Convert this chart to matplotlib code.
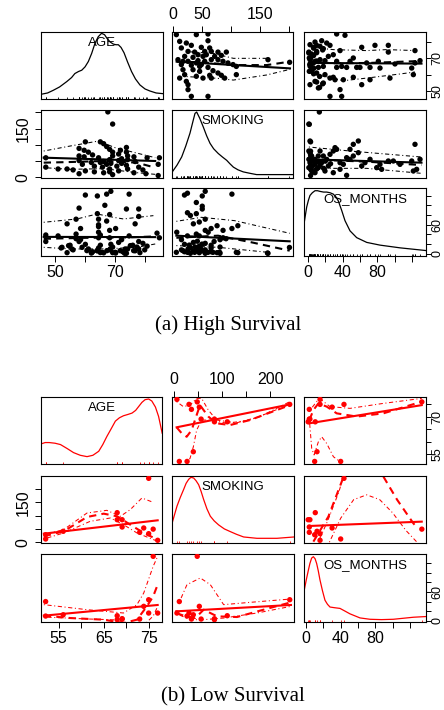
import matplotlib.pyplot as plt
import matplotlib.transforms as mtransforms
import numpy as np

plt.rcParams['font.family'] = ['Liberation Sans', 'DejaVu Sans']

names = ['AGE', 'SMOKING', 'OS_MONTHS']

# ---------------- (a) High Survival : values ----------------
# AGE vs SMOKING pairs
hi_as_smk = [5.8, 40.2, 60.3, 60.3, 11.5, 23.0, 31.6, 14.4, 48.8, 63.2, 25.9, 37.3, 54.6, 66.0, 77.5,
             91.9, 43.1, 51.7, 57.4, 71.8, 83.3, 20.1, 34.5, 8.6, 17.2, 25.9, 43.1, 54.6, 66.0, 77.5,
             86.1, 94.7, 103.4, 109.1, 14.4, 31.6, 48.8, 60.3, 17.2, 34.5, 45.9, 68.9, 77.5, 83.3, 11.5,
             20.1, 40.2, 51.7, 63.2, 89.0, 109.1, 163.6, 200.9, 25.9, 25.9, 31.6, 60.3, 66.0, 23.0, 40.2,
             45.9]
hi_as_age = [84.4, 84.4, 84.8, 80.7, 80.3, 79.3, 77.9, 76.3, 76.7, 76.3, 74.2, 73.8, 74.2, 74.2, 73.8,
             73.8, 72.2, 71.2, 72.2, 71.2, 71.8, 71.2, 70.6, 69.2, 68.2, 68.2, 68.6, 68.2, 69.2, 69.2,
             68.2, 67.2, 66.2, 65.1, 66.2, 65.8, 66.2, 64.5, 63.1, 63.1, 62.1, 62.5, 61.1, 59.7, 58.0,
             60.1, 59.1, 58.0, 59.7, 58.0, 60.1, 69.2, 67.6, 54.0, 51.0, 46.9, 46.9, 58.0, 56.0, 67.2,
             65.1]
# AGE vs OS_MONTHS pairs
hi_ao_os = [33.1, 42.7, 8.1, 15.8, 21.6, 2.3, 6.2, 13.9, 25.4, 37.0, 29.2, 1.0, 1.0, 4.2, 10.0,
            17.7, 62.0, 77.3, 92.7, 92.7, 123.5, 1.5, 2.3, 8.1, 13.9, 19.6, 23.5, 33.1, 48.5, 52.3,
            67.7, 81.2, 100.4, 123.5, 129.3, 2.0, 2.5, 6.2, 12.0, 17.7, 33.1, 38.9, 44.6, 56.2, 60.0,
            71.6, 83.1, 119.7, 1.5, 4.2, 10.0, 19.6, 25.4, 29.2, 31.2, 40.8, 52.3, 94.6, 121.6, 2.3,
            12.0, 17.7, 37.0, 62.0, 71.6, 25.4, 38.9, 8.1,
            6.5, 3.0, 6.5, 3.0, 6.5, 10.0, 3.0, 6.5, 10.0, 16.9, 6.5, 10.0, 10.0, 16.9, 13.4, 13.4]
hi_ao_age = [84.8, 84.0, 79.9, 80.7, 79.3, 78.3, 76.7, 77.3, 77.9, 74.7, 72.2, 73.2, 73.8, 72.6, 74.2,
             75.9, 76.7, 77.9, 77.9, 73.8, 74.7, 70.2, 69.2, 68.2, 69.2, 68.6, 71.2, 68.2, 68.2, 70.2,
             67.2, 68.2, 66.6, 67.2, 68.6, 66.2, 65.1, 64.1, 64.5, 65.1, 64.5, 65.1, 64.5, 64.5, 64.5,
             64.5, 64.1, 64.1, 62.1, 62.5, 61.1, 60.1, 58.0, 58.5, 57.0, 57.0, 58.5, 58.0, 60.1, 54.0,
             52.0, 55.0, 51.0, 54.0, 57.0, 46.9, 46.9, 56.0,
             60.6, 62.3, 64.0, 65.6, 67.3, 68.4, 70.1, 71.7, 73.4, 75.1, 76.2, 77.9, 55.6, 54.5, 52.3, 59.0]
# SMOKING vs OS_MONTHS pairs
hi_so_os = [13.1, 1.5, 2.3, 1.0, 2.3, 4.2, 1.0, 2.3, 1.0, 4.2, 8.1, 11.9, 15.8, 8.1, 11.9,
            17.7, 21.6, 25.4, 29.2, 31.2, 33.1, 23.5, 29.2, 44.6, 19.6, 37.0, 44.6, 48.5, 52.3, 58.1,
            40.8, 48.5, 62.0, 71.6, 83.1, 85.0, 92.7, 98.5, 106.2, 119.7, 129.3, 123.5, 121.6, 125.4, 13.9,
            8.1, 37.0, 65.8, 79.3, 58.1, 52.3, 5.0, 6.0, 10.0, 14.0, 18.0, 3.0, 26.0, 20.0,
            3.0, 6.5, 10.0, 3.0, 3.0, 3.0, 3.0, 3.0, 1.0, 13.4]
hi_so_smk = [200.6, 162.8, 111.7, 81.0, 75.9, 65.7, 55.5, 45.3, 30.0, 19.8, 14.6, 30.0, 45.3, 55.5, 65.7,
             65.7, 55.5, 70.8, 81.0, 91.3, 86.2, 35.1, 14.6, 6.5, 19.8, 45.3, 60.6, 86.2, 101.5, 111.7,
             40.2, 55.5, 35.1, 55.5, 40.2, 24.9, 50.4, 50.4, 40.2, 50.4, 55.5, 101.5, 19.8, 24.9, 81.0,
             40.2, 24.9, 45.3, 30.0, 75.9, 65.7, 35.0, 50.0, 48.0, 38.0, 28.0, 25.0, 42.0, 50.0,
             5.8, 17.2, 25.9, 37.3, 60.3, 68.9, 80.4, 109.1, 163.6, 45.9]

# fitted lines: regression, smoother, upper / lower spread
hi_lines = {
    ('SMOKING', 'AGE'): {'reg': ([6.3, 201.5], [68.0, 63.9]),
                         'smooth': ([6.3, 50, 104, 161.3, 201.5], [68.0, 67.6, 65.9, 65.9, 68.0]),
                         'up': ([23.6, 69.5, 104, 161.3], [74.1, 73.0, 70.0, 70.0]),
                         'low': ([23.6, 75.2, 104, 161.3, 201.5], [58.9, 57.9, 56.8, 59.9, 63.3])},
    ('OS_MONTHS', 'AGE'): {'reg': ([1.0, 131], [67.2, 66.8]),
                           'smooth': ([1, 30, 70, 131], [68.0, 67.0, 67.2, 68.4]),
                           'up': ([9.9, 29.2, 67.7, 90.8, 125.4], [76.3, 75.3, 74.7, 75.3, 74.7]),
                           'low': ([9.9, 40.8, 67.7, 106.2, 123.5], [60.1, 56.4, 58.0, 60.5, 61.7])},
    ('AGE', 'SMOKING'): {'reg': ([46.2, 83.4], [60.6, 50.4]),
                         'smooth': ([46.2, 55.1, 66.2, 77.3, 83.4], [45.3, 47.3, 50.4, 45.3, 30.0]),
                         'up': ([46.2, 55.1, 64.5, 70, 83.4], [81.0, 96.4, 111.7, 91.3, 60.6]),
                         'low': ([46.2, 55.1, 66.2, 77.3, 83.4], [30.0, 24.9, 26.9, 14.6, 9.5])},
    ('OS_MONTHS', 'SMOKING'): {'reg': ([1.0, 131], [55.5, 45.3]),
                               'smooth': ([1, 68, 131], [55.5, 48.3, 38.1]),
                               'up': ([1, 48.5, 131], [93.3, 81.0, 62.6]),
                               'low': ([1, 67.7, 131], [27.9, 27.9, 12.6])},
    ('AGE', 'OS_MONTHS'): {'reg': ([46.2, 83.4], [35.0, 34.5]),
                           'smooth': ([46.2, 60, 75, 83.4], [31.0, 33.0, 34.0, 36.0]),
                           'up': ([46.2, 57.3, 64.0, 69.5, 72.8, 82.8], [65.2, 72.1, 82.4, 75.5, 72.1, 79.0]),
                           'low': ([46.2, 55.1, 66.2, 77.3, 83.4], [13.4, 10.0, 10.0, 13.4, 20.3])},
    ('SMOKING', 'OS_MONTHS'): {'reg': ([5.8, 201], [37.5, 25.8]),
                               'smooth': ([5.8, 77.5, 135, 201], [33.1, 37.5, 23.8, 6.4]),
                               'up': ([5.8, 48.8, 106.2, 201], [67.2, 75.5, 68.6, 42.4]),
                               'low': ([5.8, 77.5, 135, 163.6], [16.9, 13.4, 6.5, 3.0])},
}

# density curves (x in data units, height as share of the panel)
hi_dens = {
    'AGE': ([45.3, 47.5, 49.4, 51.5, 53.9, 55.5, 56.6, 57.8, 58.9, 60.0, 61.1, 62.2, 63.3, 64.4, 65.5, 66.5,
             67.4, 68.4, 69.4, 70.3, 71.1, 72.0, 73.0, 74.2, 75.5, 76.8, 78.3, 80.0, 81.6, 83.7, 85.9],
            [0.07, 0.09, 0.13, 0.18, 0.26, 0.32, 0.38, 0.41, 0.43, 0.48, 0.56, 0.68, 0.83, 0.93, 0.98, 0.96,
             0.90, 0.85, 0.82, 0.81, 0.81, 0.77, 0.69, 0.55, 0.41, 0.30, 0.21, 0.15, 0.12, 0.09, 0.08]),
    'SMOKING': ([-1.2, 7, 15, 22, 29.3, 34, 37.9, 40.8, 46, 52.2, 58, 63.8, 70, 78, 85, 92.5, 98, 104, 112,
                 121, 132, 144, 170, 207],
                [0.09, 0.19, 0.31, 0.47, 0.66, 0.82, 0.95, 0.97, 0.88, 0.75, 0.62, 0.51, 0.43, 0.36, 0.31, 0.26,
                 0.21, 0.16, 0.12, 0.09, 0.07, 0.05, 0.05, 0.05]),
    'OS_MONTHS': ([-4.6, -3.0, -1.5, 0.5, 2.3, 5.0, 8.1, 11.0, 13.9, 18.0, 21.6, 25.5, 29.2, 32.2, 35.0, 38.9,
                   42.7, 48.5, 56.2, 67.8, 83.1, 106.2, 136.2],
                  [0.47, 0.60, 0.72, 0.82, 0.89, 0.93, 0.96, 0.96, 0.95, 0.94, 0.94, 0.93, 0.91, 0.87, 0.81, 0.67,
                   0.52, 0.37, 0.27, 0.20, 0.16, 0.12, 0.08]),
}

# ---------------- (b) Low Survival : one row per patient ----------------
lo_age = [52.1, 52.1, 56.0, 68.0, 68.0, 69.1, 69.1, 73.0, 73.9, 75.0, 75.0, 76.0, 77.0]
lo_smk = [12.0, 28.0, 40.9, 111.0, 84.5, 84.5, 57.0, 37.0, 53.3, 240.0, 32.0, 49.0, 7.1]
lo_os = [40.0, 10.0, 12.7, 10.7, 2.5, 4.5, 3.8, 3.8, 30.1, 43.8, 16.2, 133.6, 16.2]

lo_lines = {
    ('SMOKING', 'AGE'): {'reg': ([6.5, 240.5], [65.8, 75.0]),
                         'smooth': ([6.5, 16.9, 27.2, 37.5, 47.8, 54.7, 71.9, 89.1, 116.6, 157.9, 240.5],
                                    [65.8, 63.4, 62.0, 64.7, 70.7, 74.7, 70.1, 67.4, 66.7, 68.7, 74.7]),
                         'up': ([6.5, 20.3, 34.1, 47.8, 58.2, 71.9, 89.1, 130.4, 178.6, 240.5],
                                [76.1, 74.1, 74.7, 77.4, 77.4, 72.7, 68.7, 67.6, 70.1, 76.1]),
                         'low': ([27.2, 34.1, 41.0, 47.8, 58.2, 78.8, 109.8, 157.9, 240.5],
                                 [52.0, 53.3, 58.0, 64.7, 68.7, 68.7, 67.4, 68.7, 75.0])},
    ('OS_MONTHS', 'AGE'): {'reg': ([3.9, 133.5], [67.4, 74.7]),
                           'smooth': ([3.9, 8.5, 14.3, 23.9, 35.4, 58.5, 89.3, 133.5],
                                      [68.7, 72.7, 75.4, 74.1, 71.4, 70.1, 71.4, 76.1]),
                           'up': ([4.7, 14.3, 18.1, 27.7, 50.8, 89.3, 133.5],
                                  [72.7, 77.0, 76.7, 74.1, 73.4, 75.4, 77.4]),
                           'low': ([3.9, 6.6, 9.3, 14.3, 18.1, 23.9, 31.6, 39.3],
                                   [68.7, 57.3, 54.7, 60.0, 62.0, 59.3, 54.0, 52.0])},
    ('AGE', 'SMOKING'): {'reg': ([51.7, 77.0], [32.0, 82.2]),
                         'smooth': ([51.7, 56.1, 61.3, 65.0, 68.0, 70.9, 73.9, 77.0],
                                    [22.0, 40.8, 94.7, 107.2, 97.2, 65.9, 34.6, 9.5]),
                         'up': ([51.7, 56.1, 61.3, 65.7, 68.7, 70.9, 73.5, 76.0],
                                [28.3, 47.1, 109.7, 119.7, 97.2, 122.3, 166.1, 149.8]),
                         'low': ([51.7, 56.1, 62.0, 66.5, 69.4, 72.4, 77.0],
                                 [12.0, 34.6, 78.4, 90.9, 65.9, 34.6, 3.2])},
    ('OS_MONTHS', 'SMOKING'): {'reg': ([3.9, 133.5], [60.9, 77.2]),
                               'smooth': ([8.5, 25.8, 43.1], [2.0, 96.0, 243.9]),
                               'smooth2': ([89.3, 105.0, 123.8, 128.0], [246.3, 160.0, 70.9, 55.0]),
                               'up': ([27.0, 40.0, 55.0, 70.0, 85.0, 100.0, 115.0, 128.0],
                                      [0.0, 90.0, 160.0, 178.0, 160.0, 110.0, 45.0, 0.0]),
                               'low': ([14.0, 25.0, 38.0, 43.0], [0.0, 80.0, 190.0, 245.0])},
    ('AGE', 'OS_MONTHS'): {'reg': ([51.7, 77.0], [10.8, 32.9]),
                           'smooth': ([51.7, 57.6, 65.0, 69.4, 72.4, 74.6, 76.0, 77.0],
                                      [10.8, 5.9, 2.5, -4.4, 2.5, 30.1, 50.8, 75.0]),
                           'up': ([51.7, 61.3, 69.4, 72.4, 73.9, 76.0, 77.0],
                                  [33.6, 23.2, 16.3, 33.6, 57.7, 112.9, 133.6]),
                           'low': ([51.7, 61.3, 68.0, 71.0, 74.0, 76.0, 77.0],
                                   [8.0, 4.0, 2.0, -8.0, -8.0, 10.0, 30.0])},
    ('SMOKING', 'OS_MONTHS'): {'reg': ([5.8, 242.5], [19.8, 32.9]),
                               'smooth': ([5.8, 21.0, 45.0, 62.3, 89.8, 131.1, 186.1, 242.5],
                                          [16.3, 10.8, 5.9, 23.2, 9.4, 8.0, 23.2, 38.4]),
                               'up': ([12.7, 27.8, 55.4, 76.0, 103.5, 158.6, 242.5],
                                      [40.4, 75.0, 88.8, 75.0, 33.6, 38.4, 45.3]),
                               'low': ([5.8, 34.7, 62.3, 103.5, 172.4, 242.5],
                                       [14.9, 2.5, 2.5, 5.9, 16.3, 30.1])},
}

lo_dens = {
    'AGE': ([51.07, 52.0, 52.9, 54.2, 55.4, 56.9, 58.3, 59.8, 61.3, 62.6, 63.9, 64.8, 65.7, 66.7, 67.6, 68.5,
             69.4, 70.4, 71.3, 72.1, 72.8, 73.5, 74.2, 75.0, 75.7, 76.5, 77.2, 78.0],
            [0.30, 0.32, 0.32, 0.31, 0.29, 0.23, 0.17, 0.13, 0.11, 0.13, 0.19, 0.29, 0.41, 0.53, 0.64, 0.69,
             0.72, 0.74, 0.76, 0.80, 0.86, 0.92, 0.96, 0.97, 0.94, 0.85, 0.71, 0.46]),
    'SMOKING': ([-3.1, 2.0, 7.2, 14.0, 21.0, 26.0, 31.3, 36.0, 41.6, 46.5, 51.9, 57.0, 62.2, 69.0, 76.0, 84.0,
                 93.2, 105.0, 117.3, 130.0, 144.8, 172.3, 213.6, 248.8],
                [0.29, 0.42, 0.55, 0.68, 0.80, 0.89, 0.95, 0.98, 0.97, 0.93, 0.87, 0.77, 0.65, 0.51, 0.40, 0.33,
                 0.27, 0.21, 0.17, 0.13, 0.09, 0.07, 0.07, 0.09]),
    'OS_MONTHS': ([-2.0, 0.5, 2.7, 4.5, 6.5, 8.5, 10.5, 12.3, 14.2, 16.1, 19.0, 21.9, 24.8, 27.7, 33.0, 39.2,
                   45.0, 50.7, 62.3, 73.8, 87.0, 100.7, 123.8, 138.1],
                  [0.47, 0.63, 0.76, 0.86, 0.94, 0.96, 0.93, 0.86, 0.75, 0.62, 0.46, 0.32, 0.26, 0.22, 0.21, 0.20,
                   0.16, 0.12, 0.06, 0.04, 0.035, 0.04, 0.07, 0.08]),
}

# axis ranges and ticks ('' = tick without label)
hi_lims = {'AGE': (45.3, 86.0), 'SMOKING': (-1.7, 206.7), 'OS_MONTHS': (-4.6, 136.2)}
lo_lims = {'AGE': (51.07, 77.96), 'SMOKING': (-3.1, 248.8), 'OS_MONTHS': (-2.3, 138.4)}
hi_ticks = {'AGE': [50, 60, 70, 80], 'SMOKING': [0, 50, 100, 150, 200], 'OS_MONTHS': [0, 20, 40, 60, 80, 100, 120]}
lo_ticks = {'AGE': [55, 60, 65, 70, 75], 'SMOKING': [0, 50, 100, 150, 200], 'OS_MONTHS': [0, 20, 40, 60, 80, 100, 120]}
hi_labs = {'AGE': {'bottom': ['50', '', '70', ''], 'right': ['50', '', '70', '']},
           'SMOKING': {'top': ['0', '50', '', '150', ''], 'left': ['0', '', '', '150', '']},
           'OS_MONTHS': {'bottom': ['0', '', '40', '', '80', '', ''], 'right': ['0', '', '', '60', '', '', '']}}
lo_labs = {'AGE': {'bottom': ['55', '', '65', '', '75'], 'right': ['55', '', '', '70', '']},
           'SMOKING': {'top': ['0', '', '100', '', '200'], 'left': ['0', '', '', '150', '']},
           'OS_MONTHS': {'bottom': ['0', '', '40', '', '80', '', ''], 'right': ['0', '', '', '60', '', '', '']}}

W, H = 444, 710
fig = plt.figure(figsize=(W / 100, H / 100), dpi=100)


def add_panel(x0, x1, y0, y1):
    return fig.add_axes([x0 / W, 1 - y1 / H, (x1 - x0) / W, (y1 - y0) / H])


def put_ticks(axis, tks, labs, **kw):
    # labelled ticks as major, the rest as unlabelled minor ticks
    axis.set_ticks([t for t, l in zip(tks, labs) if l])
    axis.set_ticklabels([l for l in labs if l], **kw)
    axis.set_ticks([t for t, l in zip(tks, labs) if not l], minor=True)


def draw_matrix(cols, rows, pts, lines, dens, rug, lims, ticks, labs, color):
    for i, yv in enumerate(names):
        for j, xv in enumerate(names):
            ax = add_panel(cols[j][0], cols[j][1], rows[i][0], rows[i][1])
            for s in ax.spines.values():
                s.set_linewidth(0.8)
            ax.set_xticks([])
            ax.set_yticks([])
            if i == j:
                # density in data x, panel-share y
                tr = mtransforms.blended_transform_factory(ax.transData, ax.transAxes)
                dx, dy = dens[xv]
                ax.plot(dx, dy, color=color, lw=0.9, transform=tr)
                ax.vlines(rug[xv], 0, 0.035, transform=tr, color=color, lw=0.6)
                ax.text(0.5, 0.84, xv, transform=ax.transAxes, ha='center', va='center', fontsize=9.5)
            else:
                px, py = pts[(xv, yv)]
                ax.scatter(px, py, s=15, color=color, edgecolors='none', zorder=3)
                ln = lines[(xv, yv)]
                ax.plot(*ln['reg'], color=color, lw=1.5)
                ax.plot(*ln['smooth'], color=color, lw=1.5, linestyle=(0, (3.5, 2.5)))
                if 'smooth2' in ln:
                    ax.plot(*ln['smooth2'], color=color, lw=1.5, linestyle=(0, (3.5, 2.5)))
                ax.plot(*ln['up'], color=color, lw=0.75, linestyle=(0, (1, 2.5, 4, 2.5)))
                ax.plot(*ln['low'], color=color, lw=0.75, linestyle=(0, (1, 2.5, 4, 2.5)))
            # outer axes, alternating like R pairs()
            tk = dict(which='both', direction='out', length=4.5, width=0.7, labelsize=11.5)
            if i == 0 and j == 1:
                put_ticks(ax.xaxis, ticks[xv], labs[xv]['top'])
                ax.tick_params(axis='x', top=True, labeltop=True, bottom=False, labelbottom=False, pad=3, **tk)
            if i == 2 and j in (0, 2):
                put_ticks(ax.xaxis, ticks[xv], labs[xv]['bottom'])
                ax.tick_params(axis='x', bottom=True, labelbottom=True, pad=2, **tk)
            if i == 1 and j == 0:
                put_ticks(ax.yaxis, ticks[yv], labs[yv]['left'], rotation=90, va='center')
                ax.tick_params(axis='y', left=True, labelleft=True, pad=3, **tk)
            if j == 2 and i in (0, 2):
                # right edge is tight: slightly smaller labels so they stay inside the figure
                put_ticks(ax.yaxis, ticks[yv], labs[yv]['right'], rotation=90, va='center')
                ax.tick_params(axis='y', which='both', right=True, labelright=True, left=False, labelleft=False,
                               direction='out', length=3.5, width=0.7, labelsize=9, pad=0.5)
            ax.set_xlim(lims[xv])
            ax.set_ylim(lims[yv])


hi_pts = {('SMOKING', 'AGE'): (hi_as_smk, hi_as_age), ('AGE', 'SMOKING'): (hi_as_age, hi_as_smk),
          ('OS_MONTHS', 'AGE'): (hi_ao_os, hi_ao_age), ('AGE', 'OS_MONTHS'): (hi_ao_age, hi_ao_os),
          ('OS_MONTHS', 'SMOKING'): (hi_so_os, hi_so_smk), ('SMOKING', 'OS_MONTHS'): (hi_so_smk, hi_so_os)}
hi_rug = {'AGE': hi_as_age, 'SMOKING': hi_so_smk, 'OS_MONTHS': hi_ao_os}

lo_vals = {'AGE': lo_age, 'SMOKING': lo_smk, 'OS_MONTHS': lo_os}
lo_pts = {(a, b): (lo_vals[a], lo_vals[b]) for a in names for b in names if a != b}

draw_matrix([(41, 163), (172, 293), (304, 426)], [(32, 99), (110, 178), (188, 256)],
            hi_pts, hi_lines, hi_dens, hi_rug, hi_lims, hi_ticks, hi_labs, 'black')
draw_matrix([(41, 162), (172, 294), (304, 426)], [(397, 464), (476, 543), (554, 622)],
            lo_pts, lo_lines, lo_dens, lo_vals, lo_lims, lo_ticks, lo_labs, 'red')

fig.text(228 / W, 1 - 325 / H, '(a) High Survival', family=['Liberation Serif', 'DejaVu Serif'],
         fontsize=15, ha='center', va='center')
fig.text(233 / W, 1 - 697 / H, '(b) Low Survival', family=['Liberation Serif', 'DejaVu Serif'],
         fontsize=15, ha='center', va='center')

fig.savefig('out.png', dpi=100)
